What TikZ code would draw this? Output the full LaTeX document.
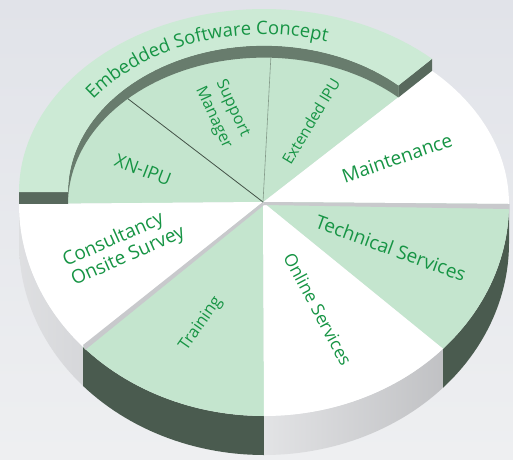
\documentclass[tikz,border=0pt]{standalone}
\usepackage{fontspec}
\setmainfont{Open Sans}
\usepackage{tikz}
\usetikzlibrary{calc,decorations.text}

% pie geometry (picture pixels, y downwards)
\newcommand{\cx}{264}
\newcommand{\cy}{204}
\newcommand{\rx}{245}
\newcommand{\ryt}{183}
\newcommand{\ryb}{212}
\newcommand{\dep}{39}
\newcommand{\rh}{12}

\definecolor{slicegreen}{RGB}{196,229,206}
\definecolor{ringgreen}{RGB}{204,234,213}
\definecolor{ringwall}{RGB}{104,124,109}
\definecolor{sidedark}{RGB}{74,91,79}
\definecolor{sidelight}{RGB}{214,215,218}
\definecolor{gapgray}{RGB}{200,201,204}
\definecolor{labelgreen}{RGB}{22,148,68}
\definecolor{bgtop}{RGB}{225,227,233}
\definecolor{bgbottom}{RGB}{238,239,241}

\tikzset{
  lbl/.style={text=labelgreen, font=\fontsize{#1}{21}\selectfont, inner sep=0pt},
  lbl/.default=19,
  sliceline/.style={draw=#1, line width=0.8pt}
}

\begin{document}
\begin{tikzpicture}[x=1pt, y=-1pt]
    \useasboundingbox (0,0) rectangle (513,459);
    % Background
    \shade[top color=bgtop, bottom color=bgbottom] (0,0) rectangle (513,459);

    \coordinate (hub) at (263,202);

    % Side walls (front half)
    \shade[left color=sidelight!80!white, right color=sidelight]
        plot[domain=180:222.4, samples=30] ({\cx+\rx*cos(\x)},{\cy-\ryb*sin(\x)})
        -- plot[domain=222.4:180, samples=30] ({\cx+\rx*cos(\x)},{\cy-\ryb*sin(\x)+\dep}) -- cycle;
    \fill[sidedark]
        plot[domain=222.4:270, samples=30] ({\cx+\rx*cos(\x)},{\cy-\ryb*sin(\x)})
        -- plot[domain=270:222.4, samples=30] ({\cx+\rx*cos(\x)},{\cy-\ryb*sin(\x)+\dep}) -- cycle;
    \shade[left color=sidelight!70!white, right color=sidelight!90!black]
        plot[domain=270:317, samples=30] ({\cx+\rx*cos(\x)},{\cy-\ryb*sin(\x)})
        -- plot[domain=317:270, samples=30] ({\cx+\rx*cos(\x)},{\cy-\ryb*sin(\x)+\dep}) -- cycle;
    \fill[sidedark]
        plot[domain=317:360, samples=30] ({\cx+\rx*cos(\x)},{\cy-\ryb*sin(\x)})
        -- plot[domain=360:317, samples=30] ({\cx+\rx*cos(\x)},{\cy-\ryb*sin(\x)+\dep}) -- cycle;

    % Top slices
    \fill[white] (hub) -- plot[domain=0:46.7, samples=30] ({\cx+\rx*cos(\x)},{\cy-\ryt*sin(\x)}) -- cycle;
    \fill[slicegreen] (hub) -- plot[domain=46.7:180, samples=60] ({\cx+\rx*cos(\x)},{\cy-\ryt*sin(\x)}) -- cycle;
    \fill[white] (hub) -- plot[domain=180:222.4, samples=30] ({\cx+\rx*cos(\x)},{\cy-\ryb*sin(\x)}) -- cycle;
    \fill[slicegreen] (hub) -- plot[domain=222.4:270, samples=30] ({\cx+\rx*cos(\x)},{\cy-\ryb*sin(\x)}) -- cycle;
    \fill[white] (hub) -- plot[domain=270:317, samples=30] ({\cx+\rx*cos(\x)},{\cy-\ryb*sin(\x)}) -- cycle;
    \fill[slicegreen] (hub) -- plot[domain=317:360, samples=30] ({\cx+\rx*cos(\x)},{\cy-\ryb*sin(\x)}) -- cycle;

    % Gaps between slices
    \coordinate (gapR) at (509,204);
    \coordinate (gapL) at ({\cx+\rx*cos(222.4)},{\cy-\ryb*sin(222.4)-2});
    \fill[gapgray] (hub) -- (gapR) -- ($(gapR)+(0,5)$) -- ($(hub)+(1,3)$) -- cycle;
    \fill[gapgray] (hub) -- (gapL) -- ($(gapL)+(2,5)$) -- ($(hub)+(1,3)$) -- cycle;

    % Dividing lines in the green sector
    \coordinate (xnEnd) at ({\cx+0.8*\rx*cos(134)},{\cy-0.8*\ryt*sin(134)});
    \coordinate (smEnd) at ({\cx+0.8*\rx*cos(88)},{\cy-0.8*\ryt*sin(88)});
    \draw[sliceline=sidedark!90!black] (hub) -- (xnEnd);
    \draw[sliceline=ringwall!70!slicegreen, line width=0.6pt] (hub) -- (smEnd);

    % Raised ring: inner wall
    \fill[ringwall]
        plot[domain=46.7:180, samples=60] ({\cx+0.8*\rx*cos(\x)},{\cy-0.8*\ryt*sin(\x)})
        -- plot[domain=180:46.7, samples=60] ({\cx+0.8*\rx*cos(\x)},{\cy-0.8*\ryt*sin(\x)-\rh}) -- cycle;
    % Raised ring: end faces
    \fill[ringwall!85!black]
        ({\cx-\rx},\cy) -- ({\cx-0.8*\rx},\cy) -- ({\cx-0.8*\rx},{\cy-\rh}) -- ({\cx-\rx},{\cy-\rh}) -- cycle;
    \fill[ringwall!85!black]
        ({\cx+\rx*cos(46.7)},{\cy-\ryt*sin(46.7)}) -- ({\cx+0.8*\rx*cos(46.7)},{\cy-0.8*\ryt*sin(46.7)})
        -- ({\cx+0.8*\rx*cos(46.7)},{\cy-0.8*\ryt*sin(46.7)-\rh}) -- ({\cx+\rx*cos(46.7)},{\cy-\ryt*sin(46.7)-\rh}) -- cycle;
    % Raised ring: top face
    \fill[ringgreen]
        plot[domain=46.7:180, samples=60] ({\cx+\rx*cos(\x)},{\cy-\ryt*sin(\x)-\rh})
        -- plot[domain=180:46.7, samples=60] ({\cx+0.8*\rx*cos(\x)},{\cy-0.8*\ryt*sin(\x)-\rh}) -- cycle;

    % Ring label
    \path[decorate, decoration={text along path, text align=center,
            text={|\fontsize{18.5}{22}\selectfont\color{labelgreen}|Embedded Software Concept}}]
        plot[domain=152:66, samples=60] ({\cx+0.86*\rx*cos(\x)},{\cy-0.86*\ryt*sin(\x)-\rh});

    % Slice labels
    \node[lbl=16, rotate=-65, align=center] (lblSupport) at (223,113) {Support\\Manager};
    \node[lbl=15.5, rotate=59] (lblExtended) at (311,121) {Extended IPU};
    \node[lbl=18, rotate=-21] (lblXN) at (143,170) {XN-IPU};
    \node[lbl, rotate=19] (lblMaint) at (397,158) {Maintenance};
    \node[lbl, rotate=-20] (lblTech) at (391,248) {Technical Services};
    \node[lbl=17.5, rotate=-62] (lblOnline) at (318,309) {Online Services};
    \node[lbl=16.5, rotate=55] (lblTraining) at (201,324) {Training};
    \node[lbl, rotate=24, align=left] (lblConsult) at (124,247) {Consultancy\\Onsite Survey};
\end{tikzpicture}
\end{document}
